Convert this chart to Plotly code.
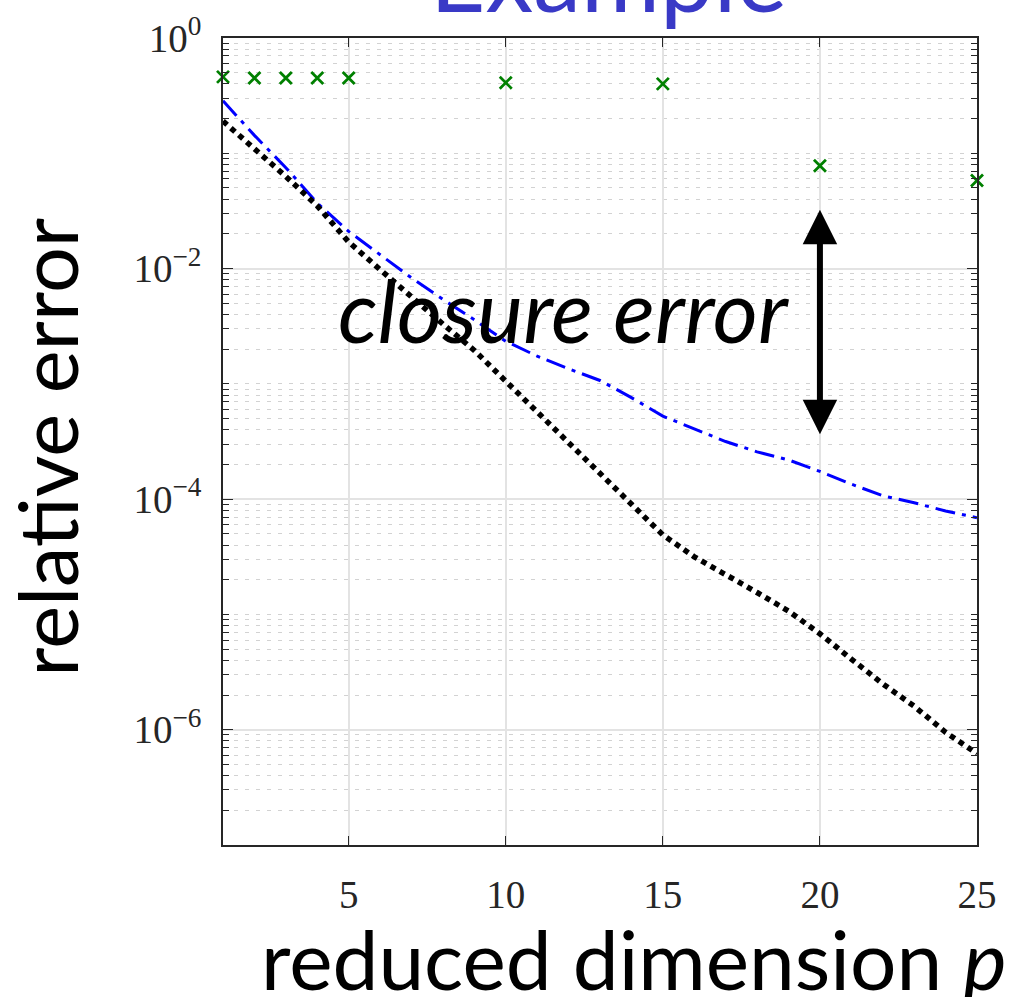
import plotly.graph_objects as go

# ---------------- data ----------------
p_dim = list(range(1, 26))
err_blue = [0.285, 0.143, 0.075, 0.037, 0.0210, 0.0132, 0.0083, 0.0054, 0.0036, 0.00234,
            0.00174, 0.00135, 0.00107, 7.6e-4, 5.25e-4, 4.07e-4, 3.16e-4, 2.57e-4, 2.19e-4,
            1.74e-4, 1.35e-4, 1.07e-4, 9.3e-5, 7.9e-5, 6.9e-5]
err_black = [0.19, 0.11, 0.063, 0.035, 0.017, 0.0098, 0.0056, 0.0033, 0.00195, 0.00105,
             5.75e-4, 3.1e-4, 1.66e-4, 9.1e-5, 4.9e-5, 3.16e-5, 2.24e-5, 1.55e-5, 1.07e-5,
             6.8e-6, 4.1e-6, 2.5e-6, 1.6e-6, 9.5e-7, 6.2e-7]
p_green = [1, 2, 3, 4, 5, 10, 15, 20, 25]
err_green = [0.46, 0.45, 0.45, 0.45, 0.45, 0.41, 0.40, 0.078, 0.058]

y_tickvals = [1e0, 1e-2, 1e-4, 1e-6]
y_ticktext = ["10<sup>0</sup>", "10<sup>\u22122</sup>", "10<sup>\u22124</sup>", "10<sup>\u22126</sup>"]
x_tickvals = [5, 10, 15, 20, 25]

# arrow ("closure error") endpoints: p and log10(error)
arrow_p = 20
arrow_top = -1.49
arrow_bottom = -3.45

SANS = "Lato, 'Open Sans', sans-serif"
SERIF = "'Liberation Serif', 'DejaVu Serif', serif"

fig = go.Figure()

fig.add_trace(go.Scatter(
    x=p_dim, y=err_blue, mode="lines",
    line=dict(color="#0000FF", width=3, dash="20px,7px,4px,7px"),
    showlegend=False))
fig.add_trace(go.Scatter(
    x=p_dim, y=err_black, mode="lines",
    line=dict(color="#000000", width=5.5, dash="5.5px,5px"),
    showlegend=False))
fig.add_trace(go.Scatter(
    x=p_green, y=err_green, mode="markers",
    marker=dict(symbol="x-thin", size=12, line=dict(width=2.8, color="#008000"), color="#008000"),
    showlegend=False, cliponaxis=False))

fig.update_xaxes(
    range=[1, 25], tickvals=x_tickvals, ticks="inside", ticklen=9, tickwidth=1.3,
    tickcolor="#262626", showline=True, linecolor="#262626", linewidth=1.5, mirror="ticks",
    showgrid=True, gridcolor="#e3e3e3", gridwidth=1.5, zeroline=False,
    tickfont=dict(family=SERIF, size=39, color="#262626"), ticklabelstandoff=14)

fig.update_yaxes(
    type="log", range=[-7, 0], tickvals=y_tickvals, ticktext=y_ticktext,
    ticks="inside", ticklen=10, tickwidth=1.3, tickcolor="#262626",
    showline=True, linecolor="#262626", linewidth=1.5, mirror="ticks",
    showgrid=True, gridcolor="#e3e3e3", gridwidth=1.5, zeroline=False,
    tickfont=dict(family=SERIF, size=39, color="#262626"), ticklabelstandoff=12,
    minor=dict(dtick="D1", ticks="inside", ticklen=6, tickwidth=1.2, tickcolor="#262626",
               showgrid=True, gridcolor="#d2d2d2", gridwidth=1, griddash="4px,7px"))

annotations = [
    dict(text="Example", xref="paper", yref="paper", x=0.511, y=1.0, xanchor="center",
         yanchor="bottom", yshift=4, showarrow=False,
         font=dict(family=SANS, size=96, color="#3939C6")),
    dict(text="<i>closure error</i>", xref="paper", yref="paper", x=0.451, y=0.664,
         xanchor="center", yanchor="middle", showarrow=False,
         font=dict(family=SANS, size=87, color="#000000")),
    dict(text="reduced dimension <i>p</i>", xref="paper", yref="paper", x=0.545, y=0,
         xanchor="center", yanchor="top", yshift=-62, showarrow=False,
         font=dict(family=SANS, size=82, color="#000000")),
    dict(text="relative error", xref="paper", yref="paper", x=0, y=0.493, textangle=-90,
         xanchor="right", yanchor="middle", xshift=-126, showarrow=False,
         font=dict(family=SANS, size=81, color="#000000")),
    dict(text="", x=arrow_p, y=arrow_top, ax=arrow_p, ay=arrow_bottom, xref="x", yref="y",
         axref="x", ayref="y", showarrow=True, arrowside="end+start", arrowhead=2,
         startarrowhead=2, arrowwidth=6, arrowsize=1.15, startarrowsize=1.15,
         arrowcolor="#000000"),
]

fig.update_layout(
    width=1015, height=997, margin=dict(l=223, r=38, t=38, b=152),
    paper_bgcolor="white", plot_bgcolor="white", annotations=annotations,
    showlegend=False)

fig.write_html("out.html")
